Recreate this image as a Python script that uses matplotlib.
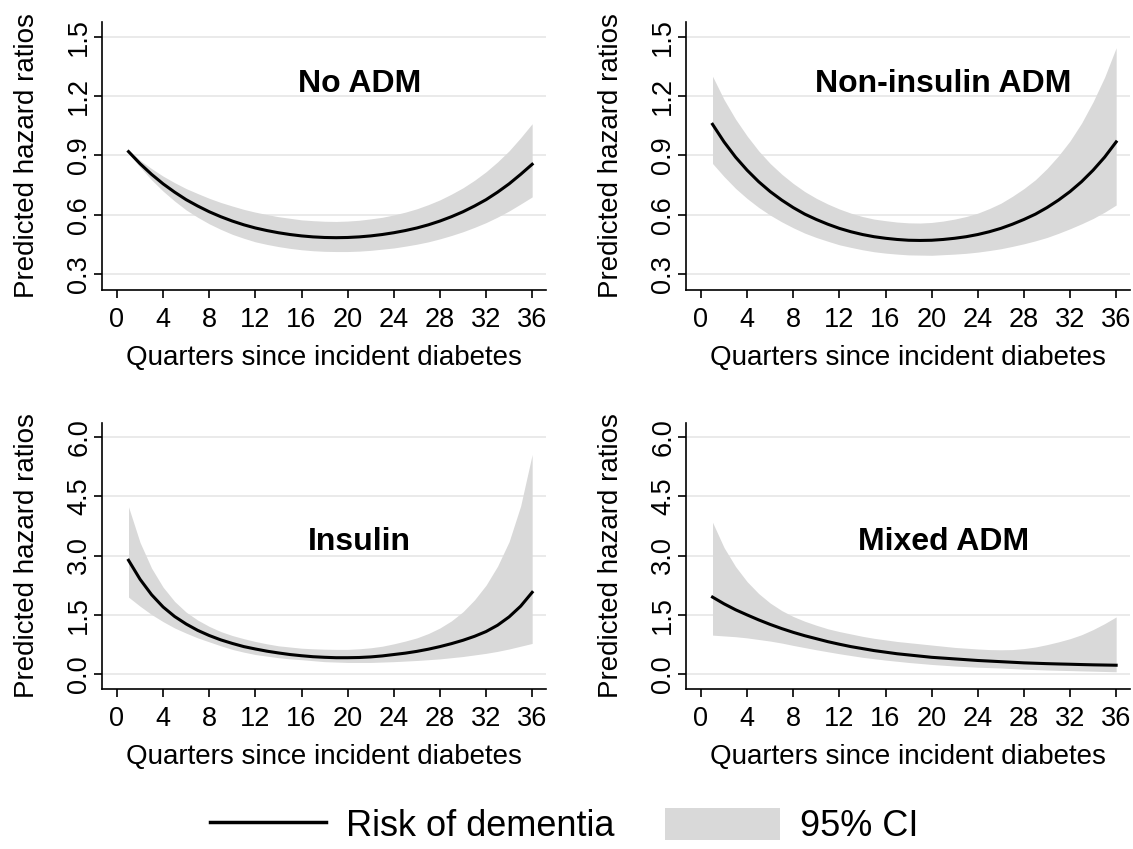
import numpy as np
import matplotlib
matplotlib.use('Agg')
import matplotlib.pyplot as plt
from matplotlib.lines import Line2D
from matplotlib.patches import Patch

plt.rcParams['font.family'] = ['Liberation Sans', 'DejaVu Sans']

# quarters since incident diabetes
quarters = list(range(1, 37))

# No ADM
noadm_hr = [0.919, 0.858, 0.804, 0.756, 0.714, 0.676, 0.644, 0.615, 0.590, 0.568, 0.549, 0.533,
            0.520, 0.509, 0.500, 0.493, 0.488, 0.485, 0.484, 0.485, 0.488, 0.493, 0.500, 0.509,
            0.520, 0.533, 0.549, 0.568, 0.590, 0.615, 0.644, 0.676, 0.714, 0.756, 0.804, 0.855]
noadm_lo = [0.910, 0.841, 0.776, 0.719, 0.669, 0.624, 0.587, 0.554, 0.526, 0.501, 0.481, 0.463,
            0.450, 0.439, 0.430, 0.423, 0.418, 0.415, 0.414, 0.414, 0.416, 0.420, 0.426, 0.432,
            0.441, 0.451, 0.463, 0.478, 0.495, 0.514, 0.536, 0.560, 0.588, 0.619, 0.654, 0.690]
noadm_hi = [0.928, 0.875, 0.833, 0.795, 0.762, 0.732, 0.707, 0.683, 0.662, 0.644, 0.627, 0.613,
            0.601, 0.590, 0.582, 0.574, 0.570, 0.567, 0.566, 0.568, 0.572, 0.579, 0.587, 0.599,
            0.613, 0.630, 0.651, 0.675, 0.704, 0.736, 0.774, 0.817, 0.867, 0.923, 0.989, 1.060]

# Non-insulin ADM
noins_hr = [1.057, 0.968, 0.891, 0.825, 0.767, 0.717, 0.674, 0.636, 0.603, 0.576, 0.552, 0.531,
            0.514, 0.500, 0.489, 0.481, 0.475, 0.471, 0.470, 0.471, 0.475, 0.481, 0.489, 0.500,
            0.514, 0.531, 0.552, 0.576, 0.603, 0.636, 0.674, 0.717, 0.767, 0.825, 0.891, 0.968]
noins_lo = [0.859, 0.793, 0.733, 0.682, 0.637, 0.598, 0.564, 0.534, 0.507, 0.485, 0.466, 0.448,
            0.435, 0.423, 0.413, 0.406, 0.401, 0.397, 0.396, 0.395, 0.398, 0.401, 0.405, 0.411,
            0.419, 0.428, 0.440, 0.453, 0.468, 0.485, 0.506, 0.529, 0.554, 0.581, 0.613, 0.649]
noins_hi = [1.300, 1.182, 1.083, 0.998, 0.923, 0.859, 0.805, 0.758, 0.717, 0.683, 0.654, 0.629,
            0.608, 0.591, 0.578, 0.570, 0.563, 0.559, 0.558, 0.561, 0.568, 0.578, 0.591, 0.608,
            0.631, 0.658, 0.693, 0.732, 0.777, 0.833, 0.898, 0.973, 1.063, 1.171, 1.295, 1.444]

# Insulin
ins_hr = [2.88, 2.40, 2.01, 1.70, 1.46, 1.27, 1.11, 0.98, 0.87, 0.78, 0.70, 0.64,
          0.585, 0.54, 0.50, 0.47, 0.445, 0.43, 0.42, 0.42, 0.425, 0.44, 0.465, 0.50,
          0.535, 0.58, 0.635, 0.70, 0.775, 0.86, 0.96, 1.08, 1.24, 1.45, 1.72, 2.07]
ins_lo = [1.95, 1.72, 1.51, 1.33, 1.17, 1.04, 0.92, 0.82, 0.72, 0.63, 0.56, 0.50,
          0.46, 0.42, 0.39, 0.37, 0.345, 0.32, 0.31, 0.30, 0.30, 0.30, 0.31, 0.32,
          0.335, 0.35, 0.37, 0.39, 0.42, 0.45, 0.49, 0.53, 0.58, 0.64, 0.71, 0.78]
ins_hi = [4.23, 3.33, 2.68, 2.20, 1.84, 1.57, 1.37, 1.21, 1.08, 0.98, 0.90, 0.83,
          0.77, 0.72, 0.69, 0.66, 0.645, 0.635, 0.63, 0.63, 0.645, 0.67, 0.71, 0.77,
          0.84, 0.92, 1.03, 1.17, 1.35, 1.58, 1.88, 2.25, 2.73, 3.35, 4.25, 5.55]

# Mixed ADM
mix_hr = [1.95, 1.78, 1.63, 1.50, 1.375, 1.26, 1.155, 1.06, 0.975, 0.90, 0.825, 0.76,
          0.70, 0.65, 0.60, 0.56, 0.52, 0.49, 0.46, 0.43, 0.41, 0.39, 0.37, 0.35,
          0.335, 0.32, 0.305, 0.29, 0.28, 0.27, 0.262, 0.255, 0.247, 0.24, 0.235, 0.23]
mix_lo = [0.99, 0.97, 0.95, 0.92, 0.88, 0.84, 0.79, 0.73, 0.675, 0.62, 0.57, 0.52,
          0.475, 0.43, 0.395, 0.36, 0.33, 0.30, 0.275, 0.25, 0.23, 0.21, 0.195, 0.18,
          0.17, 0.16, 0.145, 0.13, 0.12, 0.11, 0.102, 0.095, 0.087, 0.08, 0.072, 0.065]
mix_hi = [3.84, 3.20, 2.72, 2.34, 2.04, 1.80, 1.61, 1.46, 1.34, 1.24, 1.15, 1.08,
          1.02, 0.96, 0.91, 0.87, 0.83, 0.80, 0.77, 0.74, 0.71, 0.68, 0.66, 0.64,
          0.625, 0.62, 0.625, 0.65, 0.69, 0.75, 0.82, 0.90, 1.00, 1.13, 1.28, 1.45]

top_ticks = [0.3, 0.6, 0.9, 1.2, 1.5]
top_labels = ['0.3', '0.6', '0.9', '1.2', '1.5']
bot_ticks = [0.0, 1.5, 3.0, 4.5, 6.0]
bot_labels = ['0.0', '1.5', '3.0', '4.5', '6.0']

band_col = '#d9d9d9'
grid_col = '#e8e8e8'

fig = plt.figure(figsize=(11.33, 8.49), dpi=100)

W, H = 1133.0, 849.0
panels = [
    ('No ADM', noadm_hr, noadm_lo, noadm_hi, (102, 22, 290), (0.2196, 1.574), top_ticks, top_labels, 1.262),
    ('Non-insulin ADM', noins_hr, noins_lo, noins_hi, (686, 22, 290), (0.2196, 1.574), top_ticks, top_labels, 1.262),
    ('Insulin', ins_hr, ins_lo, ins_hi, (102, 423, 689), (-0.37, 6.345), bot_ticks, bot_labels, 3.33),
    ('Mixed ADM', mix_hr, mix_lo, mix_hi, (686, 423, 689), (-0.37, 6.345), bot_ticks, bot_labels, 3.33),
]

for title, hr, lo, hi, (left, top, bottom), ylim, yt, yl, ty in panels:
    ax = fig.add_axes([left / W, 1 - bottom / H, 444 / W, (bottom - top) / H])
    for y in yt:
        ax.axhline(y, color=grid_col, lw=1.3, zorder=1)
    ax.fill_between(quarters, lo, hi, color=band_col, lw=0, zorder=2)
    ax.plot(quarters, hr, color='black', lw=2.2, zorder=3)
    ax.set_xlim(-1.3, 37.2)
    ax.set_ylim(ylim)
    ax.set_xticks(range(0, 37, 4))
    ax.set_yticks(yt)
    ax.set_yticklabels(yl, rotation=90, va='center')
    ax.spines['top'].set_visible(False)
    ax.spines['right'].set_visible(False)
    ax.spines['left'].set_linewidth(1.2)
    ax.spines['bottom'].set_linewidth(1.2)
    ax.tick_params(direction='out', length=6, width=1.2, labelsize=19.5)
    ax.tick_params(axis='x', pad=6)
    ax.tick_params(axis='y', pad=1)
    ax.set_ylabel('Predicted hazard ratios', fontsize=20)
    ax.yaxis.set_label_coords(-0.139, 0.5)
    ax.set_xlabel('Quarters since incident diabetes', fontsize=20)
    ax.xaxis.set_label_coords(0.5, -0.205)
    ax.text(21, ty, title, fontsize=23, fontweight='bold', ha='center', va='center')

handles = [Line2D([], [], color='black', lw=2.5), Patch(facecolor=band_col, edgecolor='none')]
fig.legend(handles, ['Risk of dementia', '95% CI'], loc='center', bbox_to_anchor=(0.498, 0.027),
           ncol=2, frameon=False, fontsize=26, handlelength=3.2, handleheight=1.0,
           handletextpad=0.55, columnspacing=1.4)

plt.savefig('out.png', dpi=100)
